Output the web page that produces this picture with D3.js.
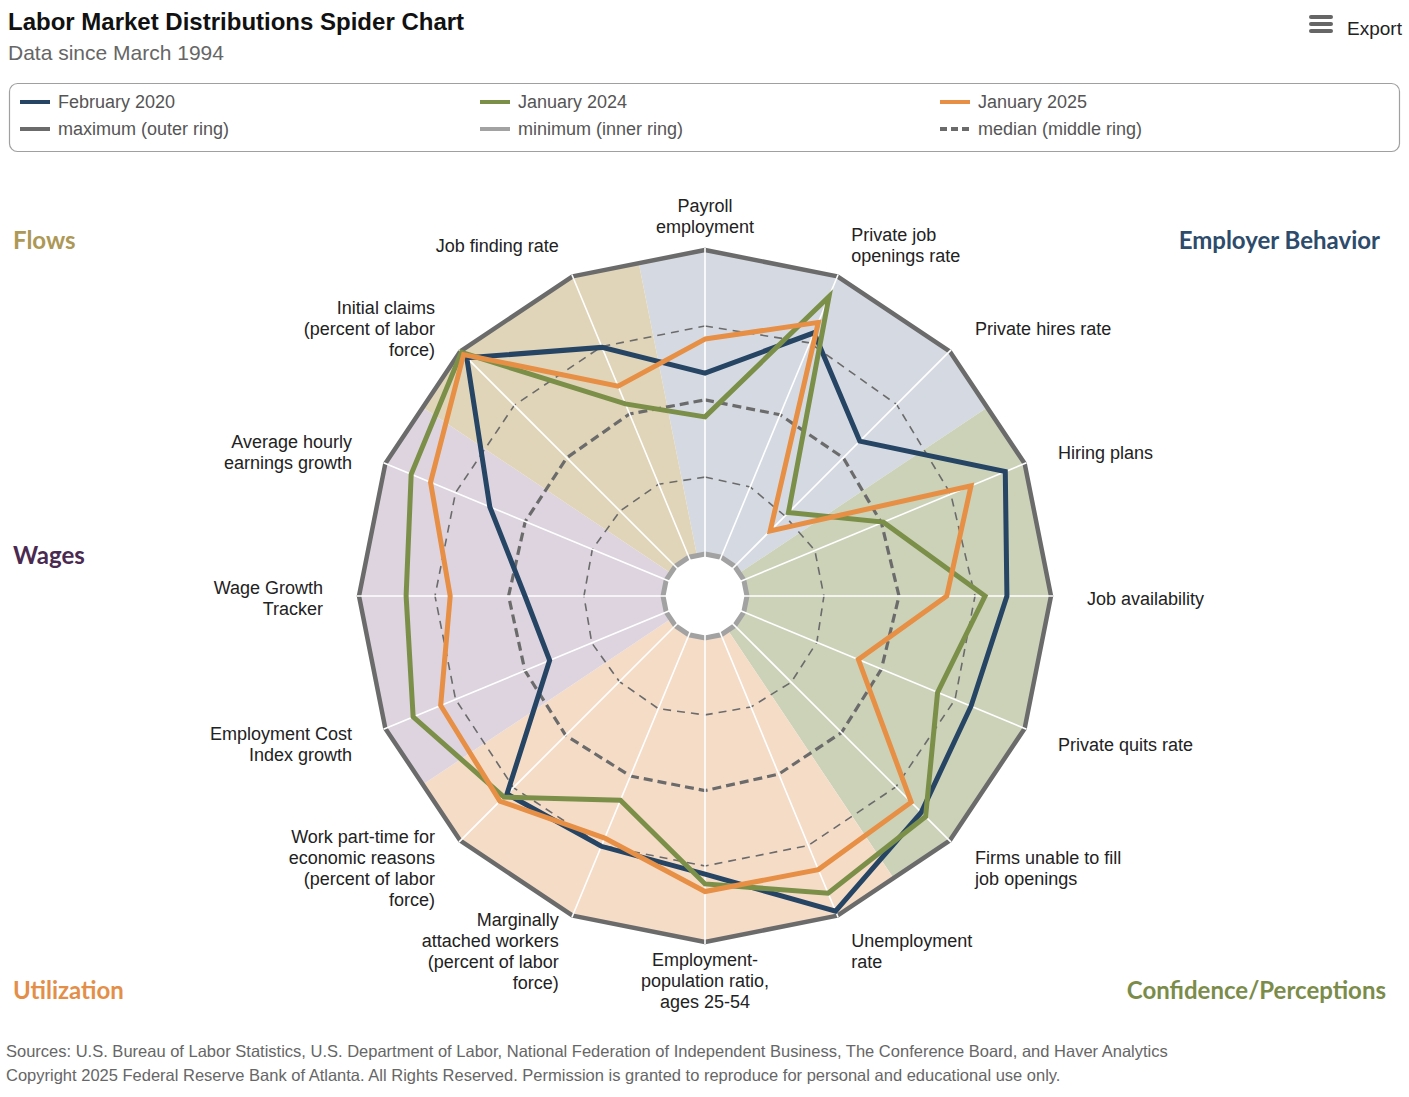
<!DOCTYPE html>
<html><head><meta charset="utf-8">
<script src="https://cdn.jsdelivr.net/npm/d3@7"></script>
<style>
body{margin:0;background:#fff;}
svg{display:block;font-family:"Liberation Sans",Arial,sans-serif;}
</style>
</head><body>
<svg id="c" width="1409" height="1097"></svg>
<script>
// ---------- DATA ----------
const axisLabels = [
  ["Payroll","employment"],
  ["Private job","openings rate"],
  ["Private hires rate"],
  ["Hiring plans"],
  ["Job availability"],
  ["Private quits rate"],
  ["Firms unable to fill","job openings"],
  ["Unemployment","rate"],
  ["Employment-","population ratio,","ages 25-54"],
  ["Marginally","attached workers","(percent of labor","force)"],
  ["Work part-time for","economic reasons","(percent of labor","force)"],
  ["Employment Cost","Index growth"],
  ["Wage Growth","Tracker"],
  ["Average hourly","earnings growth"],
  ["Initial claims","(percent of labor","force)"],
  ["Job finding rate"]
];
// values scaled 0 (minimum, inner ring) .. 1 (maximum, outer ring)
const feb2020 = [0.595,0.799,0.582,0.931,0.855,0.809,0.868,0.984,0.777,0.753,0.783,0.415,0.454,0.628,0.970,0.747];
const jan2024 = [0.451,0.928,0.250,0.497,0.783,0.690,0.888,0.920,0.809,0.589,0.797,0.901,0.845,0.908,0.995,0.546];
const jan2025 = [0.707,0.836,0.165,0.809,0.657,0.408,0.821,0.836,0.834,0.724,0.816,0.803,0.700,0.839,0.985,0.609];
const upperQuartile = [0.750,0.763,0.753,0.737,0.750,0.752,0.750,0.750,0.750,0.750,0.753,0.750,0.750,0.750,0.749,0.750];
const medianRing    = [0.507,0.507,0.505,0.490,0.500,0.490,0.497,0.496,0.502,0.503,0.510,0.503,0.508,0.502,0.505,0.510];
const lowerQuartile = [0.253,0.250,0.234,0.253,0.253,0.260,0.263,0.257,0.253,0.263,0.260,0.265,0.260,0.263,0.257,0.260];
const maxRing = axisLabels.map(()=>1);
const minRing = axisLabels.map(()=>0);

const sectionNames = ["Employer Behavior","Confidence/Perceptions","Utilization","Wages","Flows"];
const sectionFirstAxis = [0,3,7,11,14];
const sectionLastAxis  = [2,6,10,13,15];

const legendNames = ["February 2020","January 2024","January 2025","maximum (outer ring)","minimum (inner ring)","median (middle ring)"];

// ---------- STYLE ----------
const sectionFill = ["#d5dae2","#cbd2b8","#f5dcc7","#ddd4df","#e0d5b8"];
const sectionTextColor = ["#2d4b6b","#7b8c4a","#e38f4a","#4a2a50","#ad9856"];
const seriesColor = {feb:"#264463", jan24:"#7b8f49", jan25:"#e68f45"};

const svg = d3.select("#c");
const W = 1409, H = 1097;
svg.append("rect").attr("width",W).attr("height",H).attr("fill","#fff");

const cx = 705, cy = 596, R = 346, r0 = 42;
const n = axisLabels.length;
const rScale = d3.scaleLinear().domain([0,1]).range([r0,R]);
const aScale = d3.scaleLinear().domain([0,n]).range([0,2*Math.PI]);

const g = svg.append("g").attr("transform",`translate(${cx},${cy})`);
const closed = d3.lineRadial().angle(d=>aScale(d[0])).radius(d=>d[1]).curve(d3.curveLinearClosed);
const ringPts = vals => vals.map((v,i)=>[i, rScale(v)]);

// section background wedges clipped to outer polygon
const edgeMid = R*Math.cos(Math.PI/n);
sectionNames.forEach((s,k)=>{
  const a = sectionFirstAxis[k], b = sectionLastAxis[k];
  const pts = [[a,0],[a-0.5,edgeMid]];
  for(let i=a;i<=b;i++) pts.push([i,R]);
  pts.push([b+0.5,edgeMid]);
  g.append("path").attr("d",closed(pts)).attr("fill",sectionFill[k]);
});
// hole
g.append("path").attr("d",closed(ringPts(minRing))).attr("fill","#fff");

// outer / inner rings
g.append("path").attr("d",closed(ringPts(maxRing))).attr("fill","none")
  .attr("stroke","#6b6b6b").attr("stroke-width",4.5).attr("stroke-linejoin","round");
g.append("path").attr("d",closed(ringPts(minRing))).attr("fill","none")
  .attr("stroke","#a2a2a2").attr("stroke-width",5);

// quartile & median rings
g.append("path").attr("d",closed(ringPts(lowerQuartile))).attr("fill","none")
  .attr("stroke","#6b6b6b").attr("stroke-width",1.6).attr("stroke-dasharray","8,6");
g.append("path").attr("d",closed(ringPts(upperQuartile))).attr("fill","none")
  .attr("stroke","#6b6b6b").attr("stroke-width",1.6).attr("stroke-dasharray","8,6");
g.append("path").attr("d",closed(ringPts(medianRing))).attr("fill","none")
  .attr("stroke","#6b6b6b").attr("stroke-width",3.2).attr("stroke-dasharray","9,5");

// spokes
const xy = (i,r)=>[r*Math.sin(aScale(i)), -r*Math.cos(aScale(i))];
g.selectAll("line.spoke").data(d3.range(n)).join("line").attr("class","spoke")
  .attr("x1",i=>xy(i,0)[0]).attr("y1",i=>xy(i,0)[1])
  .attr("x2",i=>xy(i,R+2)[0]).attr("y2",i=>xy(i,R+2)[1])
  .attr("stroke","#fff").attr("stroke-width",1.6);

// series
[[feb2020,seriesColor.feb],[jan2024,seriesColor.jan24],[jan2025,seriesColor.jan25]].forEach(([vals,col])=>{
  g.append("path").attr("d",closed(ringPts(vals))).attr("fill","none")
    .attr("stroke",col).attr("stroke-width",5).attr("stroke-linejoin","miter");
});

// axis labels
const labR = 382;
axisLabels.forEach((lines,i)=>{
  const [x,y] = xy(i,labR);
  const s = Math.sin(aScale(i));
  const anchor = Math.abs(s)<0.1 ? "middle" : (s>0 ? "start" : "end");
  const t = g.append("text").attr("text-anchor",anchor).attr("font-size",18).attr("fill","#222");
  lines.forEach((ln,j)=>{
    t.append("tspan").attr("x",x).attr("y",y+2.5+(j-(lines.length-1)/2)*21).attr("dy","0.35em").text(ln);
  });
});

// section labels
const secPos = [[1380,241,"end"],[1386,991,"end"],[13,991,"start"],[13,556,"start"],[13,241,"start"]];
sectionNames.forEach((s,k)=>{
  svg.append("text").attr("x",secPos[k][0]).attr("y",secPos[k][1]).attr("dy","0.35em")
    .attr("text-anchor",secPos[k][2]).attr("font-family","Lato, 'Open Sans', sans-serif")
    .attr("font-weight","bold").attr("font-size",24).attr("fill",sectionTextColor[k]).text(s);
});

// title
svg.append("text").attr("x",8).attr("y",30).attr("font-size",24).attr("font-weight","bold").attr("fill","#111")
  .text("Labor Market Distributions Spider Chart");
svg.append("text").attr("x",8).attr("y",60).attr("font-size",21).attr("fill","#666")
  .text("Data since March 1994");

// export button
[17,24,31].forEach(y=>svg.append("rect").attr("x",1309).attr("y",y-2).attr("width",24).attr("height",4).attr("rx",2).attr("fill","#666"));
svg.append("text").attr("x",1347).attr("y",28).attr("dy","0.35em").attr("font-size",19).attr("fill","#222").text("Export");

// legend
svg.append("rect").attr("x",9.5).attr("y",83.5).attr("width",1390).attr("height",68).attr("rx",8)
  .attr("fill","none").attr("stroke","#a0a0a0").attr("stroke-width",1.2);
const legendColors = [seriesColor.feb,seriesColor.jan24,seriesColor.jan25,"#6b6b6b","#a2a2a2","#6b6b6b"];
legendNames.forEach((nm,k)=>{
  const col = k%3, row = Math.floor(k/3);
  const x = 20 + col*460, y = 102 + row*27;
  svg.append("line").attr("x1",x).attr("x2",x+30).attr("y1",y).attr("y2",y)
    .attr("stroke",legendColors[k]).attr("stroke-width",4)
    .attr("stroke-dasharray",k===5?"7,4":null);
  svg.append("text").attr("x",x+38).attr("y",y).attr("dy","0.35em").attr("font-size",18).attr("fill","#555").text(nm);
});

// footer
svg.append("text").attr("x",6).attr("y",1051).attr("dy","0.35em").attr("font-size",16.5).attr("fill","#666")
  .text("Sources: U.S. Bureau of Labor Statistics, U.S. Department of Labor, National Federation of Independent Business, The Conference Board, and Haver Analytics");
svg.append("text").attr("x",6).attr("y",1075).attr("dy","0.35em").attr("font-size",16.5).attr("fill","#666")
  .text("Copyright 2025 Federal Reserve Bank of Atlanta. All Rights Reserved. Permission is granted to reproduce for personal and educational use only.");
</script>
</body></html>
